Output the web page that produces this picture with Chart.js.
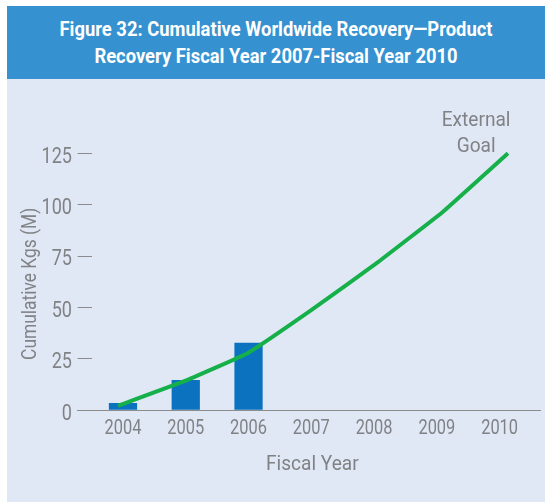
<!DOCTYPE html>
<html>
<head>
<meta charset="utf-8">
<script src="https://cdn.jsdelivr.net/npm/chart.js@4.4.1/dist/chart.umd.min.js"></script>
<style>
  html, body { margin: 0; padding: 0; background: #ffffff; }
  #wrap { position: relative; width: 545px; height: 502px; overflow: hidden; }
  #panel { position: absolute; left: 7px; top: 6px; right: 0; bottom: 0; background: #e1e8f5; }
  #header {
    position: absolute; left: 7px; top: 6px; width: 538px; height: 73px;
    background: #3591d0; color: #ffffff;
    font: bold 21px Roboto, sans-serif;
  }
  #header span {
    position: absolute; left: 0; width: 538px; text-align: center;
    white-space: nowrap; transform-origin: 50% 50%;
  }
  #chart { position: absolute; left: 0; top: 0; }
</style>
</head>
<body>
<div id="wrap">
  <div id="panel"></div>
  <div id="header">
    <span id="t1" style="top: 11px">Figure 32: Cumulative Worldwide Recovery—Product</span>
    <span id="t2" style="top: 38px">Recovery Fiscal Year 2007-Fiscal Year 2010</span>
  </div>
  <canvas id="chart" width="545" height="502"></canvas>
</div>
<script>
/* global Chart */
const fiscalYears = ['2004', '2005', '2006', '2007', '2008', '2009', '2010'];
const actualKgs = [3.55, 14.7, 32.9, null, null, null, null];
const goalKgs = [2.2, 13.9, 27.9, 49.3, 72.1, 96.6, 125];
const yTicks = [0, 25, 50, 75, 100, 125];

const FONT = 'Roboto, sans-serif';
const GREY = '#808285';
const SQUEEZE = 0.82; // condensed look for the numbers

// title lines: squeeze the bold face to a condensed width
(() => {
    const w = document.getElementById('t1').getBoundingClientRect().width;
    const s = 471 / w;
    ['t1', 't2'].forEach(id => {
        document.getElementById(id).style.transform = 'scaleX(' + s + ')';
    });
})();

// goal line runs on its own linear axis so it can reach a little past the outer bars
const goalPoints = goalKgs.map((v, i) => ({ x: i, y: v }));

function narrowText(ctx, text, x, y, size, align, rotate, squeeze) {
    ctx.save();
    ctx.translate(x, y);
    if (rotate) ctx.rotate(rotate);
    ctx.scale(squeeze || SQUEEZE, 1);
    ctx.font = size + 'px ' + FONT;
    ctx.fillStyle = GREY;
    ctx.textAlign = align;
    ctx.textBaseline = 'alphabetic';
    ctx.fillText(text, 0, 0);
    ctx.restore();
}

// baseline stretches past both ends of the plot area
const baseline = {
    id: 'baseline',
    beforeDatasetsDraw(chart) {
        const { ctx, scales } = chart;
        const y = Math.round(scales.y.getPixelForValue(0)) + 0.5;
        ctx.save();
        ctx.strokeStyle = '#8c8c8c';
        ctx.lineWidth = 1;
        ctx.beginPath();
        ctx.moveTo(77, y);
        ctx.lineTo(541, y);
        ctx.stroke();
        ctx.restore();
    }
};

// tick labels, axis titles and the goal note, set in a condensed style
const labels = {
    id: 'labels',
    afterDraw(chart) {
        const { ctx, scales, chartArea } = chart;
        const x = scales.x, y = scales.y;

        y.ticks.forEach((t, i) => {
            narrowText(ctx, String(t.value), 72, y.getPixelForTick(i) + 9.3, 22, 'right');
        });
        x.ticks.forEach((t, i) => {
            narrowText(ctx, x.getLabelForValue(t.value), x.getPixelForTick(i), chartArea.bottom + 24, 20, 'center');
        });

        narrowText(ctx, 'Fiscal Year', (chartArea.left + chartArea.right) / 2 + 1, chartArea.bottom + 60, 21, 'center', 0, 0.91);
        narrowText(ctx, 'Cumulative Kgs (M)', 36, (chartArea.top + chartArea.bottom) / 2 + 2, 20, 'center', -Math.PI / 2, 0.87);

        const gx = x.getPixelForTick(fiscalYears.length - 1) - 23.5;
        const gy = y.getPixelForValue(goalKgs[goalKgs.length - 1]);
        narrowText(ctx, 'External', gx, gy - 27.6, 21, 'center', 0, 0.91);
        narrowText(ctx, 'Goal', gx, gy - 1, 21, 'center', 0, 0.91);
    }
};

new Chart(document.getElementById('chart'), {
    type: 'bar',
    data: {
        labels: fiscalYears,
        datasets: [{
            type: 'bar',
            data: actualKgs,
            backgroundColor: '#0a72bf',
            categoryPercentage: 1,
            barPercentage: 0.45,
            grouped: false,
            order: 2
        }, {
            type: 'line',
            data: goalPoints,
            xAxisID: 'xLine',
            borderColor: '#16b04b',
            borderWidth: 4,
            tension: 0.1,
            pointRadius: 0,
            fill: false,
            clip: false,
            order: 1
        }]
    },
    options: {
        responsive: false,
        animation: false,
        devicePixelRatio: 1,
        layout: { padding: { top: 153.3, right: 14, bottom: 0, left: 0 } },
        plugins: {
            legend: { display: false },
            tooltip: { enabled: false }
        },
        scales: {
            x: {
                type: 'category',
                offset: true,
                grid: { display: false },
                border: { display: false },
                ticks: { display: false },
                afterFit(scale) { scale.height = 91.7; }
            },
            xLine: {
                type: 'linear',
                display: false,
                offset: false,
                min: -0.406,
                max: 6.354
            },
            y: {
                min: 0,
                max: 125,
                afterBuildTicks(scale) { scale.ticks = yTicks.map(v => ({ value: v })); },
                grid: {
                    drawOnChartArea: false,
                    drawTicks: true,
                    tickLength: 14,
                    color: '#8c8c8c'
                },
                border: { display: false },
                ticks: { display: false },
                afterFit(scale) { scale.width = 91.6; }
            }
        }
    },
    plugins: [baseline, labels]
});
</script>
</body>
</html>
